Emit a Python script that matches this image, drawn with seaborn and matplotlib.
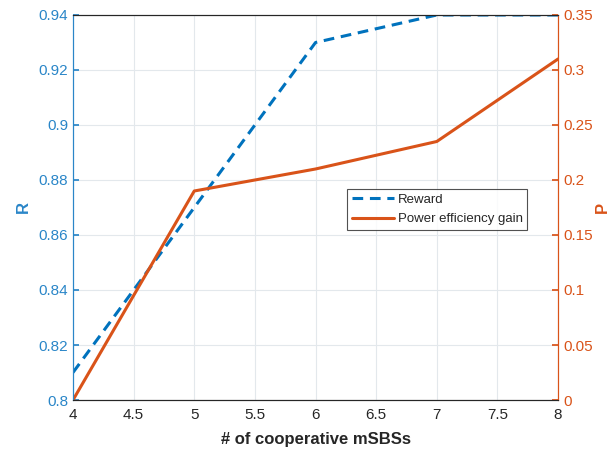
import matplotlib
matplotlib.use("Agg")
import matplotlib.pyplot as plt
import seaborn as sns
import pandas as pd

sns.set_theme(style="white")
plt.rcParams['font.family'] = ['Liberation Sans', 'DejaVu Sans']

x_vals = [4, 5, 6, 7, 8]
reward = [0.81, 0.87, 0.93, 0.94, 0.94]
power_gain = [0.0, 0.19, 0.21, 0.235, 0.31]
x_ticks = [4, 4.5, 5, 5.5, 6, 6.5, 7, 7.5, 8]
r_ticks = [0.8, 0.82, 0.84, 0.86, 0.88, 0.9, 0.92, 0.94]
p_ticks = [0, 0.05, 0.1, 0.15, 0.2, 0.25, 0.3, 0.35]

BLUE = "#0072BD"
ORANGE = "#D95319"
TICK_BLUE = "#2A86C8"
TICK_ORANGE = "#D95319"

df = pd.DataFrame({"x": x_vals, "reward": reward, "power": power_gain})

fig = plt.figure(figsize=(6.14, 4.5), dpi=100)
ax = fig.add_axes([0.1189, 0.1111, 0.790, 0.8556])
ax2 = ax.twinx()

sns.lineplot(data=df, x="x", y="reward", ax=ax, color=BLUE, linewidth=2.2,
             linestyle=(0, (3.5, 2.2)), label="Reward", legend=False)
sns.lineplot(data=df, x="x", y="power", ax=ax2, color=ORANGE, linewidth=2.2,
             label="Power efficiency gain", legend=False)

ax.set_xlim(4, 8)
ax.set_ylim(0.8, 0.94)
ax2.set_ylim(0, 0.35)
ax.set_xticks(x_ticks)
ax.set_xticklabels([f"{t:g}" for t in x_ticks])
ax.set_yticks(r_ticks)
ax.set_yticklabels([f"{t:g}" for t in r_ticks])
ax2.set_yticks(p_ticks)
ax2.set_yticklabels([f"{t:g}" for t in p_ticks])

ax.grid(True, color="#E3E8EC", linewidth=0.8)
ax.set_axisbelow(True)

ax.tick_params(axis="x", direction="in", length=4, colors="#262626", labelsize=11, pad=6)
ax.tick_params(axis="y", direction="in", length=4, colors=TICK_BLUE, labelcolor=TICK_BLUE, labelsize=11)
ax2.tick_params(axis="y", direction="in", length=4, colors=TICK_ORANGE, labelcolor=TICK_ORANGE, labelsize=11)

for a in (ax, ax2):
    a.spines["top"].set_color("#262626")
    a.spines["bottom"].set_color("#262626")
    a.spines["left"].set_color(TICK_BLUE)
    a.spines["right"].set_color(TICK_ORANGE)
    for s in a.spines.values():
        s.set_linewidth(0.8)

ax.set_xlabel("# of cooperative mSBSs", fontsize=12, fontweight="bold", color="#262626", labelpad=7)
ax.set_ylabel("R", fontsize=12, fontweight="bold", color=TICK_BLUE)
ax.yaxis.set_label_coords(-0.087, 0.5)
ax2.set_ylabel("P", fontsize=12, fontweight="bold", color=TICK_ORANGE, rotation=90)
ax2.yaxis.set_label_coords(1.075, 0.5)

h1, l1 = ax.get_legend_handles_labels()
h2, l2 = ax2.get_legend_handles_labels()
leg = ax2.legend(h1 + h2, l1 + l2, loc="lower left", bbox_to_anchor=(0.565, 0.442),
                 fontsize=9.5, frameon=True, fancybox=False, handlelength=3.2,
                 borderpad=0.35, labelspacing=0.55, handletextpad=0.3, borderaxespad=0)
leg.get_frame().set_edgecolor("#262626")
leg.get_frame().set_linewidth(0.8)

fig.savefig("out.png", dpi=100)
